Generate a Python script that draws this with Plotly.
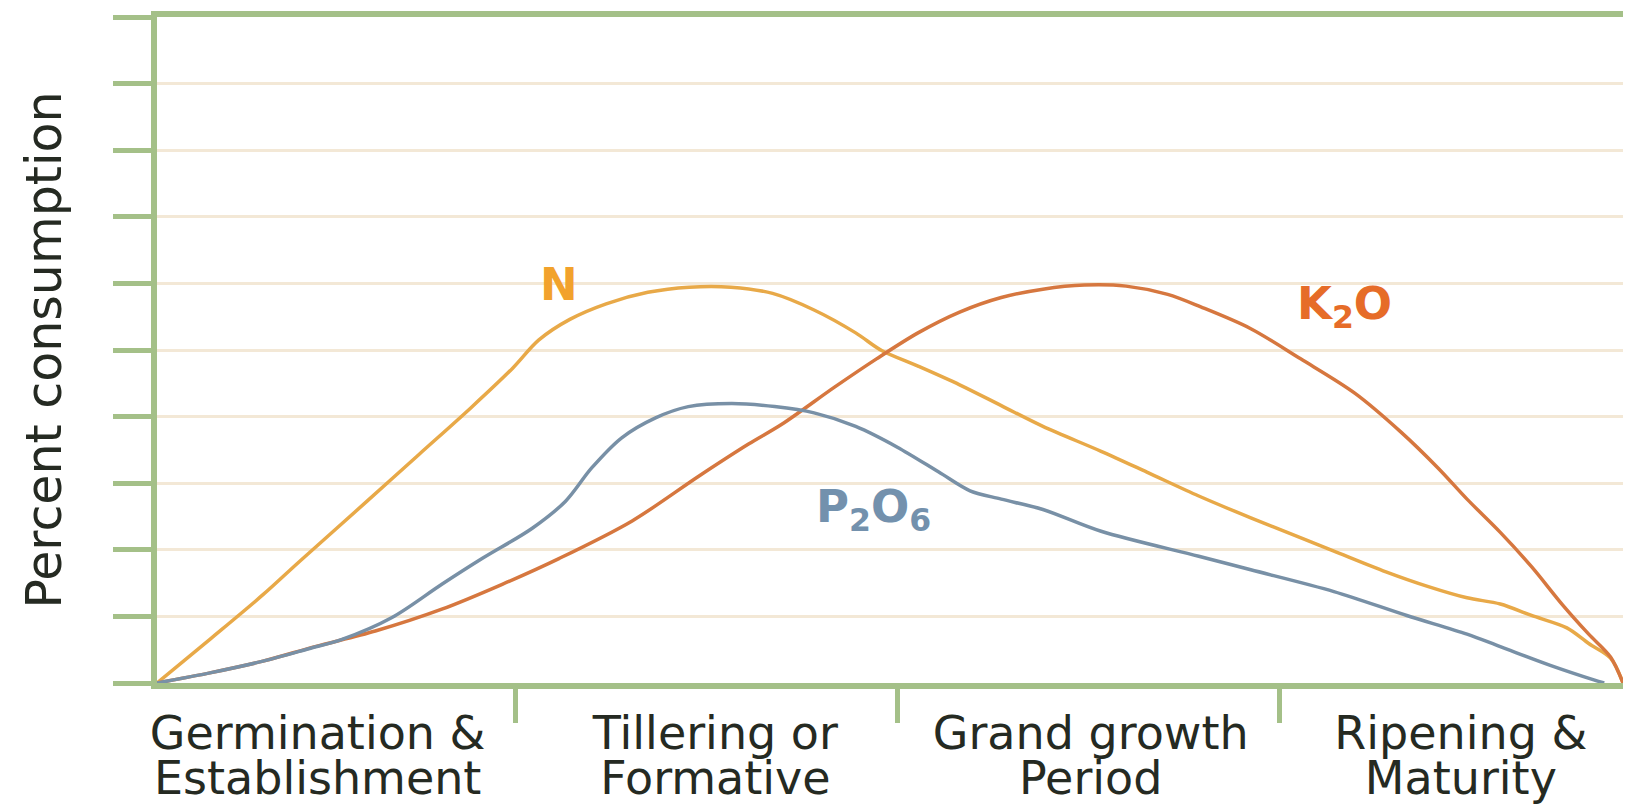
import plotly.graph_objects as go

# ---- data (x: 0-100 along the crop cycle, y: percent) ----
stage_line1 = ["Germination &", "Tillering or", "Grand growth", "Ripening &"]
stage_line2 = ["Establishment", "Formative", "Period", "Maturity"]
stage_centers = [10.96, 38.09, 63.69, 88.94]
stage_bounds = [24.47, 50.5, 76.6]

n_x = [0, 3.69, 7.23, 9.72, 14.33, 17.87, 21.42, 24.26, 26.03, 28.16, 30.64, 33.48,
       36.31, 39.15, 41.99, 44.82, 47.66, 49.43, 51.91, 54.75, 57.59, 60.43, 64.4,
       67.52, 71.06, 74.61, 78.16, 80.28, 83.83, 86.67, 89.36, 91.63, 93.76, 96.17,
       97.66, 99.15, 100]
n_y = [0, 6.71, 13.26, 18.25, 27.3, 34.32, 41.34, 47.27, 51.48, 54.6, 56.94, 58.66,
       59.44, 59.44, 58.5, 56.01, 52.57, 49.92, 47.58, 44.77, 41.65, 38.53, 34.79,
       31.67, 28.08, 24.8, 21.68, 19.81, 16.69, 14.51, 12.79, 11.86, 10.14, 8.27,
       5.93, 3.74, 0]

k_x = [0, 3.69, 7.23, 10.78, 14.89, 19.43, 23.55, 27.45, 32.41, 36.95, 40.35, 42.62,
       46.24, 49.08, 51.91, 54.75, 57.59, 60.43, 63.26, 66.1, 68.94, 71.2, 74.61,
       78.01, 81.7, 84.82, 87.38, 89.36, 91.63, 93.76, 95.89, 97.66, 99.15, 100]
k_y = [0, 1.56, 3.28, 5.46, 7.8, 11.08, 14.82, 18.72, 24.34, 31.05, 35.88, 38.85,
       44.46, 48.67, 52.57, 55.69, 57.88, 59.13, 59.75, 59.59, 58.35, 56.47, 53.2,
       48.67, 43.53, 37.75, 32.29, 27.61, 22.62, 17.47, 11.7, 7.33, 3.9, 0]

p_x = [0, 3.69, 7.23, 10.35, 12.62, 16.03, 19.43, 22.2, 25.6, 27.87, 29.65, 31.7,
       33.97, 36.24, 39.22, 42.13, 44.82, 47.66, 50.5, 53.33, 55.46, 57.59, 60.43,
       64.4, 71.06, 74.61, 80.28, 85.25, 89.36, 91.63, 95.04, 98.01, 98.72]
p_y = [0, 1.56, 3.28, 5.15, 6.55, 9.83, 14.82, 18.72, 23.24, 27.3, 32.29, 36.82,
       39.78, 41.5, 41.97, 41.5, 40.56, 38.53, 35.41, 31.67, 28.86, 27.61, 26.05,
       22.78, 19.03, 17.0, 13.73, 10.14, 7.33, 5.46, 2.65, 0.47, 0]

series_names = ["N", "K<sub>2</sub>O", "P<sub>2</sub>O<sub>6</sub>"]
label_x = [27.4, 81.0, 48.9]
label_y = [59.8, 56.6, 26.2]

y_title = "Percent consumption"

# ---- styles ----
GREEN = "#a4c088"
GRID = "#f3e8d6"
TEXT = "#252a22"
FONT = "DejaVu Sans"
line_colors = ["#e8a948", "#d6773f", "#7890a6"]
label_colors = ["#f2a22c", "#e66c28", "#7391ad"]

fig = go.Figure()
for xs, ys, name, col in zip([n_x, k_x, p_x], [n_y, k_y, p_y], series_names, line_colors):
    fig.add_trace(go.Scatter(x=xs, y=ys, mode="lines", name=name,
                             line=dict(color=col, width=3.5, shape="spline", smoothing=0.9),
                             showlegend=False, hoverinfo="skip"))

for name, x, y, col in zip(series_names, label_x, label_y, label_colors):
    fig.add_annotation(x=x, y=y, xref="x", yref="y", text=name, showarrow=False,
                       font=dict(family=FONT, size=45, color=col, weight="bold"),
                       xanchor="center", yanchor="middle")

fig.update_layout(
    width=1633, height=804,
    margin=dict(l=157, r=10, t=17, b=121, autoexpand=False),
    paper_bgcolor="white", plot_bgcolor="white",
    showlegend=False,
    xaxis=dict(
        range=[0, 100], showgrid=False, zeroline=False, automargin=False,
        showline=True, linecolor=GREEN, linewidth=6, mirror=True,
        tickmode="array", tickvals=stage_centers, ticktext=stage_line1,
        ticks="", ticklabelstandoff=5,
        tickfont=dict(family=FONT, size=46, color=TEXT),
        minor=dict(tickmode="array", tickvals=stage_bounds, ticks="outside",
                   ticklen=34, tickwidth=5, tickcolor=GREEN, showgrid=False),
    ),
    xaxis2=dict(
        range=[0, 100], overlaying="x", anchor="y", side="bottom", automargin=False,
        showgrid=False, zeroline=False, showline=False,
        tickmode="array", tickvals=stage_centers, ticktext=stage_line2,
        ticks="", ticklabelstandoff=64,
        tickfont=dict(family=FONT, size=46, color=TEXT),
    ),
    yaxis=dict(
        range=[0, 100], dtick=10, tick0=0, zeroline=False, automargin=False,
        showline=True, linecolor=GREEN, linewidth=6,
        ticks="outside", ticklen=38, tickwidth=5, tickcolor=GREEN,
        showticklabels=False,
        showgrid=True, gridcolor=GRID, gridwidth=3,
        title=dict(text=y_title, standoff=38,
                   font=dict(family=FONT, size=49, color=TEXT)),
    ),
    yaxis2=dict(
        range=[0, 100], overlaying="y", side="right", anchor="x", automargin=False,
        showline=True, linecolor="#c8ddb3", linewidth=4,
        showgrid=False, zeroline=False, ticks="", showticklabels=False,
    ),
)

# an invisible trace on xaxis2 so the overlay axis is rendered
fig.add_trace(go.Scatter(x=[stage_centers[0]], y=[0], xaxis="x2", yaxis="y",
                         mode="markers", marker=dict(opacity=0), showlegend=False,
                         hoverinfo="skip"))

fig.write_html("out.html", config={"displayModeBar": False},
               post_script="document.body.style.margin='0';")
